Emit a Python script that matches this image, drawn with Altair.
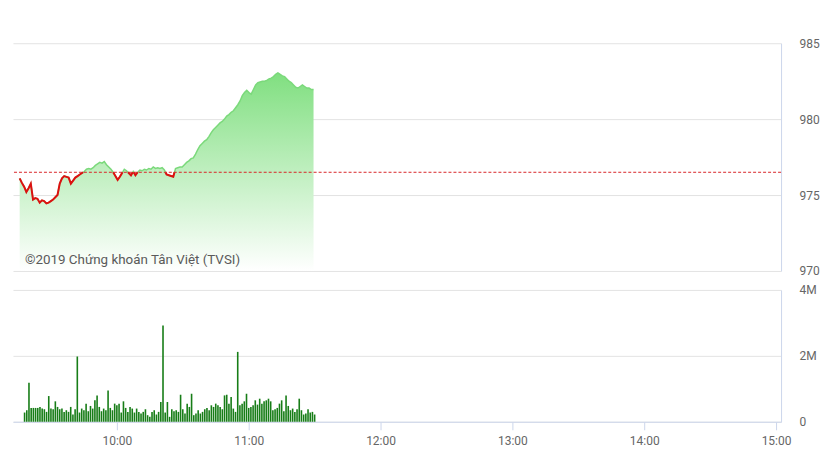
import altair as alt
import pandas as pd

# ---- data ----
start_minute = 18          # first sample 09:18, expressed as minutes after 09:00
ref_price = 976.5          # previous close (dashed reference)

price = [
    976.10, 975.80, 975.55, 975.20, 975.45, 975.75, 974.70, 974.80, 974.75, 974.50,
    974.65, 974.60, 974.45, 974.50, 974.60, 974.70, 974.85, 975.00, 975.75, 976.10,
    976.25, 976.20, 976.15, 975.75, 975.95, 976.15, 976.25, 976.35, 976.45, 976.55,
    976.70, 976.75, 976.70, 976.80, 976.95, 977.05, 977.15, 977.10, 977.20, 977.00,
    976.85, 976.70, 976.50, 976.25, 976.00, 976.20, 976.45, 976.70, 976.60, 976.45,
    976.30, 976.55, 976.30, 976.50, 976.65, 976.60, 976.70, 976.65, 976.75, 976.70,
    976.85, 976.75, 976.80, 976.75, 976.80, 976.65, 976.35, 976.30, 976.25, 976.20,
    976.75, 976.80, 976.85, 976.85, 977.00, 977.15, 977.25, 977.40, 977.45, 977.70,
    978.00, 978.25, 978.40, 978.55, 978.65, 978.85, 979.10, 979.30, 979.45, 979.60,
    979.75, 979.85, 980.00, 980.20, 980.30, 980.45, 980.55, 980.75, 980.95, 981.20,
    981.55, 981.75, 981.90, 981.75, 981.65, 981.95, 982.25, 982.40, 982.45, 982.50,
    982.50, 982.55, 982.65, 982.70, 982.80, 982.95, 983.05, 982.95, 982.85, 982.80,
    982.65, 982.50, 982.40, 982.25, 982.10, 982.05, 982.15, 982.25, 982.15, 982.05,
    982.05, 981.95, 981.95,
]

volume_m = [
    0.28, 0.35, 1.18, 0.42, 0.42, 0.42, 0.42, 0.45, 0.40, 0.38,
    0.30, 0.78, 0.40, 0.38, 0.62, 0.45, 0.38, 0.40, 0.30, 0.35,
    0.30, 0.45, 0.22, 0.38, 1.98, 0.28, 0.40, 0.35, 0.55, 0.32,
    0.48, 0.40, 0.65, 0.80, 0.45, 0.32, 0.40, 0.35, 0.95, 0.42,
    0.35, 0.55, 0.50, 0.55, 0.28, 0.62, 0.42, 0.30, 0.45, 0.40,
    0.28, 0.40, 0.30, 0.25, 0.30, 0.38, 0.20, 0.15, 0.30, 0.35,
    0.22, 0.30, 0.60, 2.92, 0.28, 0.60, 0.15, 0.38, 0.32, 0.35,
    0.30, 0.82, 0.38, 0.25, 0.55, 0.45, 0.85, 0.20, 0.25, 0.35,
    0.25, 0.30, 0.38, 0.42, 0.35, 0.50, 0.45, 0.55, 0.50, 0.45,
    0.38, 0.80, 0.82, 0.55, 0.75, 0.40, 0.30, 2.12, 0.50, 0.55,
    0.62, 0.85, 0.42, 0.45, 0.50, 0.65, 0.52, 0.70, 0.55, 0.62,
    0.65, 0.70, 0.62, 0.35, 0.38, 0.42, 0.55, 0.65, 0.32, 0.80,
    0.48, 0.35, 0.40, 0.30, 0.38, 0.70, 0.35, 0.22, 0.25, 0.38,
    0.28, 0.30, 0.22,
]

x_ticks = [60, 120, 180, 240, 300, 360]     # 10:00 ... 15:00
x_domain = [15, 360]                          # 09:15 ... 15:00
price_ticks = [970, 975, 980, 985]
vol_ticks = [0, 2, 4]
watermark = "©2019 Chứng khoán Tân Việt (TVSI)"

minutes = [start_minute + i for i in range(len(price))]
df = pd.DataFrame({"m": minutes, "price": price, "vol": volume_m})

# red part of the line: the stretches below the reference, cut where they cross it
red_rows = []
seg = 0
for i, p in enumerate(price):
    if i > 0:
        p0 = price[i - 1]
        if (p0 < ref_price) != (p < ref_price):
            t = (ref_price - p0) / (p - p0)
            red_rows.append({"m": minutes[i - 1] + t, "price": ref_price, "seg": seg})
            if p >= ref_price:
                seg += 1
    if p < ref_price:
        red_rows.append({"m": minutes[i], "price": p, "seg": seg})
red_df = pd.DataFrame(red_rows)

FONT = "Roboto"
GRID = "#e3e3e3"
AXIS = "#ccd6eb"
LABEL = "#666666"

xscale = alt.Scale(domain=x_domain, nice=False, zero=False)
yscale = alt.Scale(domain=[970, 985], nice=False, zero=False)

y_axis_price = alt.Axis(
    orient="right", values=price_ticks, grid=True, gridColor=GRID, ticks=False,
    tickSize=0, domain=True, domainColor=AXIS, labelPadding=18, labelColor=LABEL,
    labelFont=FONT, labelFontSize=12, title=None,
)

base = alt.Chart(df)

area = base.mark_area(
    color=alt.Gradient(
        gradient="linear",
        stops=[alt.GradientStop(color="#80df80", offset=0),
               alt.GradientStop(color="#ffffff", offset=1)],
        x1=1, x2=1, y1=0, y2=1,
    ),
).encode(
    x=alt.X("m:Q", scale=xscale, axis=None),
    y=alt.Y("price:Q", scale=yscale, axis=y_axis_price),
    y2=alt.datum(970),
)

green_line = base.mark_line(color="#7bd97b", strokeWidth=1.5).encode(
    x=alt.X("m:Q", scale=xscale, axis=None),
    y=alt.Y("price:Q", scale=yscale),
)

red_line = alt.Chart(red_df).mark_line(color="#dd1010", strokeWidth=2).encode(
    x=alt.X("m:Q", scale=xscale, axis=None),
    y=alt.Y("price:Q", scale=yscale),
    detail="seg:N",
    order="m:Q",
)

ref_rule = alt.Chart(pd.DataFrame({"ref": [ref_price]})).mark_rule(
    color="#d9262a", strokeDash=[3, 2], strokeWidth=1
).encode(y=alt.Y("ref:Q", scale=yscale))

mark_txt = alt.Chart(pd.DataFrame({"t": [watermark]})).mark_text(
    align="left", baseline="middle", font=FONT, fontSize=13.4, color="#5a5a5a"
).encode(text="t:N", x=alt.value(12), y=alt.value(217))

top = alt.layer(area, green_line, red_line, ref_rule, mark_txt).properties(
    width=769, height=228
)

bars = base.mark_bar(color="#177d17", size=1.6).encode(
    x=alt.X(
        "m:Q", scale=xscale,
        axis=alt.Axis(
            values=x_ticks, grid=False, domain=True, domainColor=AXIS, ticks=True,
            tickColor=AXIS, tickSize=8, labelPadding=6, labelColor=LABEL,
            labelFont=FONT, labelFontSize=12, title=None, labelFlush=False,
            labelExpr="floor(datum.value / 60) + 9 + ':00'",
        ),
    ),
    y=alt.Y(
        "vol:Q", scale=alt.Scale(domain=[0, 4], nice=False),
        axis=alt.Axis(
            orient="right", values=vol_ticks, grid=True, gridColor=GRID, ticks=False,
            tickSize=0, domain=True, domainColor=AXIS, labelPadding=18,
            labelColor=LABEL, labelFont=FONT, labelFontSize=12, title=None,
            labelExpr="datum.value == 0 ? '0' : datum.value + 'M'",
        ),
    ),
).properties(width=769, height=132)

chart = alt.vconcat(top, bars, spacing=7).properties(
    padding={"left": 4, "top": 29, "right": 0, "bottom": 5},
    background="white",
).configure_view(stroke=None)

chart.save("out.html", embed_options={"renderer": "svg", "actions": False})
